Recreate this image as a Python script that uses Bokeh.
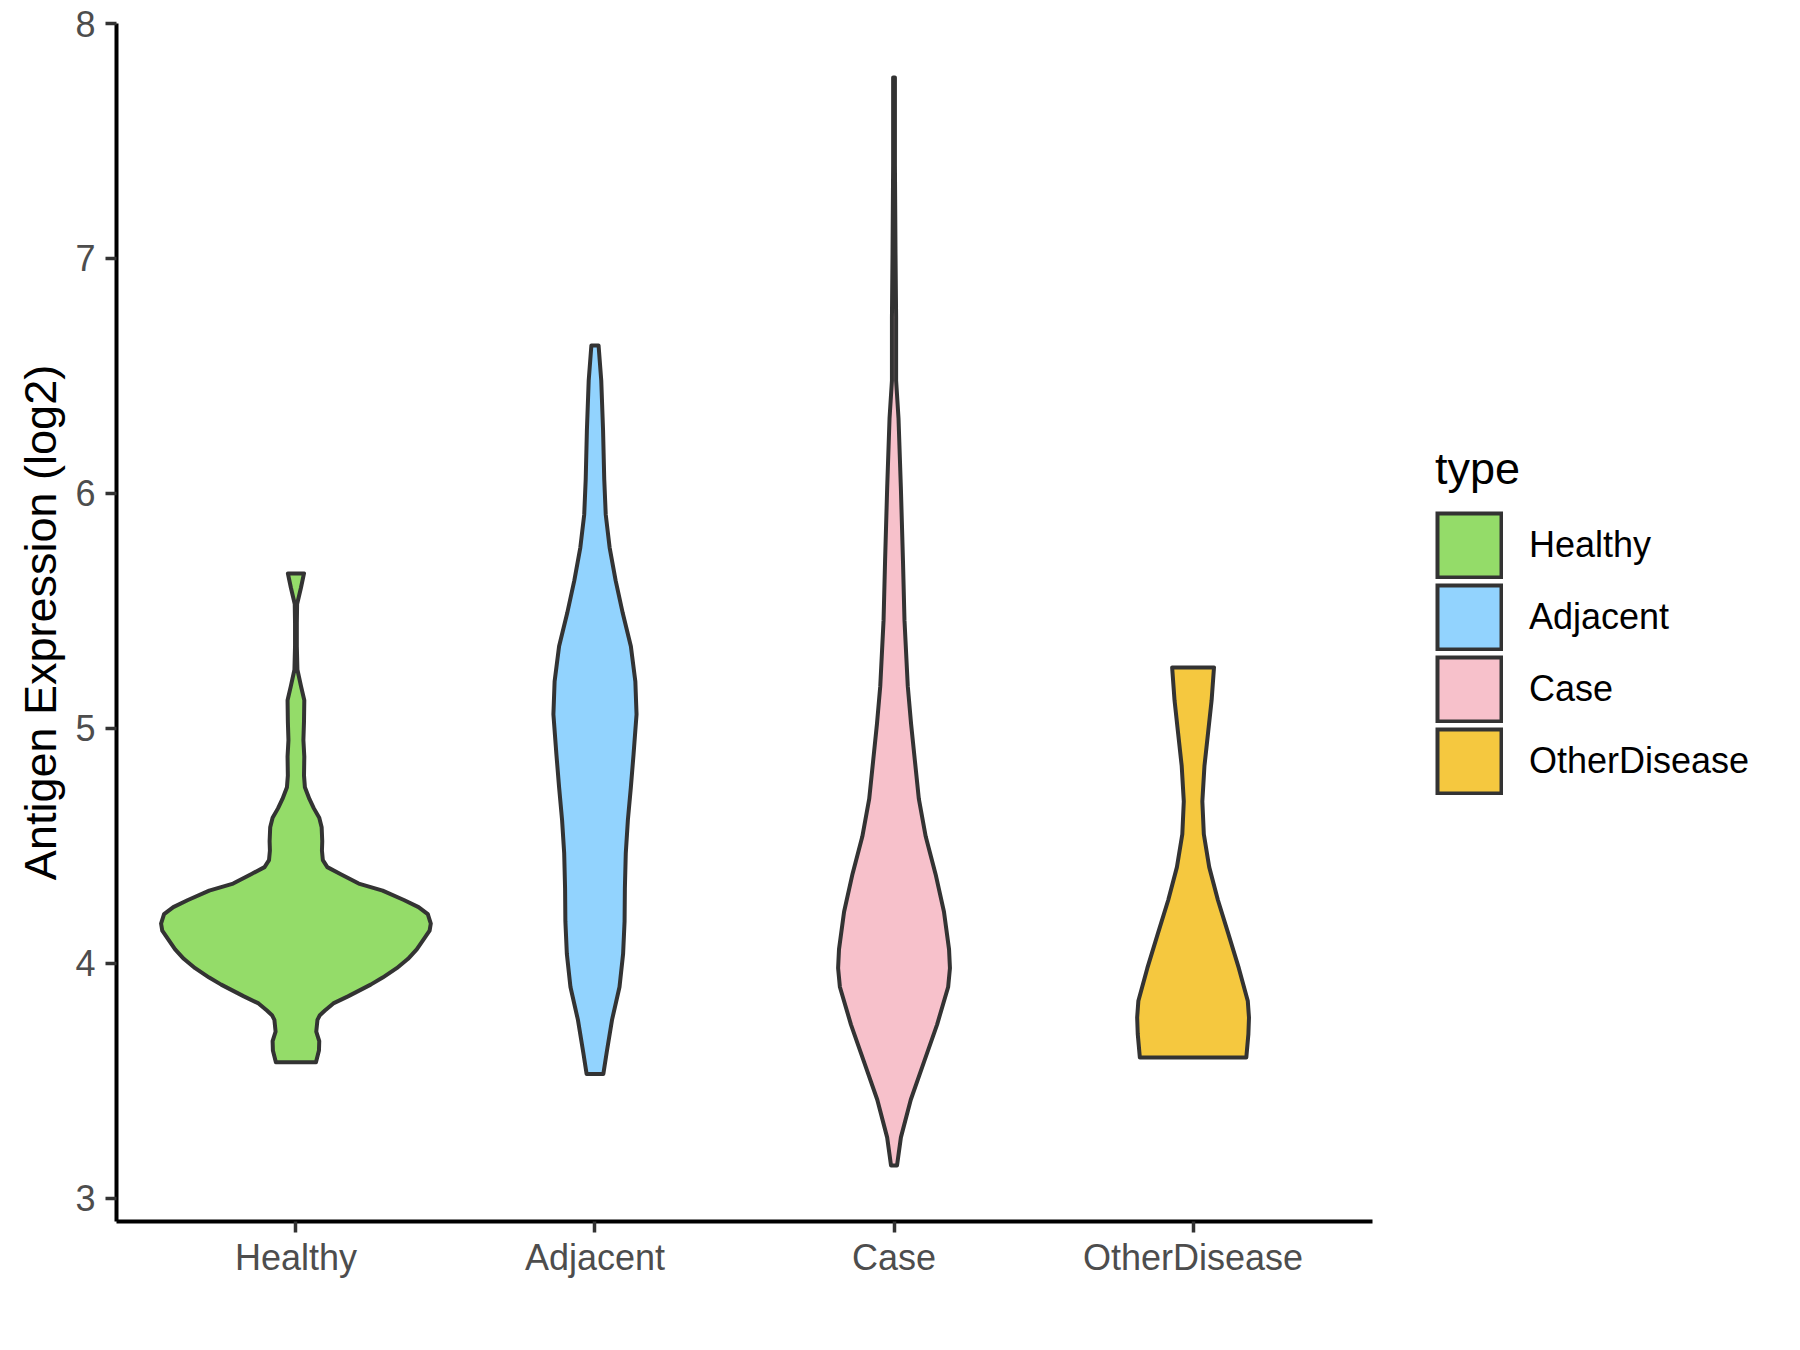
from bokeh.plotting import figure
from bokeh.models import Range1d, FixedTicker, Legend, LegendItem, ColumnDataSource
from bokeh.embed import file_html
from bokeh.resources import INLINE

# ---------------- data ----------------
categories = ["Healthy", "Adjacent", "Case", "OtherDisease"]
colors = ["#94DC69", "#92D3FE", "#F7C1CB", "#F5C83F"]
y_ticks = [3, 4, 5, 6, 7, 8]

# violin outlines: expression levels (log2) and half-width of the violin (category units)
healthy_y = [5.66, 5.60, 5.53, 5.45, 5.35, 5.25, 5.18, 5.12, 5.03, 4.95, 4.88, 4.80, 4.75,
             4.70, 4.66, 4.62, 4.58, 4.52, 4.48, 4.44, 4.41, 4.38, 4.34, 4.31, 4.27, 4.24, 4.21,
             4.17, 4.14, 4.11, 4.06, 4.02, 3.98, 3.94, 3.91, 3.86, 3.83, 3.80, 3.78, 3.76, 3.71,
             3.67, 3.63, 3.58]
healthy_w = [0.027, 0.017, 0.004, 0.003, 0.003, 0.005, 0.017, 0.028, 0.027, 0.025, 0.028, 0.027, 0.030,
             0.045, 0.060, 0.078, 0.086, 0.088, 0.087, 0.090, 0.105, 0.150, 0.210, 0.290, 0.361, 0.410, 0.441,
             0.451, 0.447, 0.431, 0.404, 0.375, 0.337, 0.290, 0.250, 0.174, 0.125, 0.097, 0.080, 0.072, 0.068,
             0.078, 0.077, 0.067]

adjacent_y = [6.63, 6.48, 6.27, 6.06, 5.91, 5.77, 5.63, 5.49, 5.35, 5.20, 5.06, 4.89, 4.75,
              4.61, 4.47, 4.32, 4.18, 4.04, 3.90, 3.76, 3.62, 3.53]
adjacent_w = [0.012, 0.021, 0.027, 0.031, 0.036, 0.049, 0.069, 0.093, 0.120, 0.135, 0.139, 0.129, 0.120,
              0.110, 0.103, 0.100, 0.099, 0.094, 0.082, 0.057, 0.039, 0.028]

case_y = [7.77, 7.40, 7.02, 6.75, 6.48, 6.32, 6.02, 5.71, 5.46, 5.18, 5.02, 4.86, 4.70, 4.54,
          4.38, 4.22, 4.06, 3.98, 3.90, 3.74, 3.58, 3.42, 3.26, 3.14]
case_w = [0.003, 0.003, 0.005, 0.007, 0.007, 0.015, 0.023, 0.030, 0.035, 0.046, 0.057, 0.070, 0.083, 0.106,
          0.139, 0.167, 0.184, 0.187, 0.181, 0.144, 0.100, 0.056, 0.023, 0.010]

other_y = [5.26, 5.12, 4.98, 4.84, 4.69, 4.55, 4.41, 4.27, 4.13, 3.98, 3.84, 3.77, 3.70, 3.60]
other_w = [0.070, 0.062, 0.050, 0.038, 0.031, 0.036, 0.054, 0.083, 0.117, 0.153, 0.183, 0.187, 0.185, 0.178]

outlines = [(healthy_y, healthy_w), (adjacent_y, adjacent_w), (case_y, case_w), (other_y, other_w)]

# ---------------- figure ----------------
FONT = "Liberation Sans"
p = figure(frame_width=1256, frame_height=1198, x_range=Range1d(0.4, 4.6), y_range=Range1d(2.902, 8.0),
           output_backend="svg", toolbar_location=None,
           min_border_left=116, min_border_right=0, min_border_top=23, min_border_bottom=113)
p.outline_line_color = None
p.xgrid.visible = False
p.ygrid.visible = False
p.background_fill_color = "white"

for i, (cat, col, (ys, ws)) in enumerate(zip(categories, colors, outlines)):
    pos = i + 1
    xs = [pos - w for w in ws] + [pos + w for w in ws[::-1]]
    yy = list(ys) + list(ys[::-1])
    src = ColumnDataSource(dict(x=xs, y=yy))
    p.patch("x", "y", source=src, fill_color=col, line_color="#333333",
            line_width=4, line_join="round")

# legend keys: bordered squares (outer dark stroke + inner coloured dashed stroke)
nan = float("nan")
items = []
for cat, col in zip(categories, colors):
    r_out = p.line(x=[nan], y=[nan], line_color="#333333", line_width=68)
    r_in = p.line(x=[nan], y=[nan], line_color=col, line_width=60, line_dash="0 4 60 100")
    items.append(LegendItem(label=cat, renderers=[r_out, r_in]))

# axes
p.xaxis.ticker = FixedTicker(ticks=[1, 2, 3, 4])
p.xaxis.major_label_overrides = {i + 1: c for i, c in enumerate(categories)}
p.yaxis.ticker = FixedTicker(ticks=y_ticks)
for ax in (p.xaxis, p.yaxis):
    ax.axis_line_color = "black"
    ax.axis_line_width = 4
    ax.major_tick_line_color = "#333333"
    ax.major_tick_line_width = 3.5
    ax.major_tick_in = 0
    ax.major_tick_out = 11
    ax.minor_tick_line_color = None
    ax.major_label_text_font = FONT
    ax.major_label_text_font_size = "36px"
    ax.major_label_text_color = "#4D4D4D"
p.xaxis.major_label_standoff = 4
p.yaxis.major_label_standoff = 10
p.yaxis.axis_label = "Antigen Expression (log2)"
p.yaxis.axis_label_text_font = FONT
p.yaxis.axis_label_text_font_size = "45px"
p.yaxis.axis_label_text_font_style = "normal"
p.yaxis.axis_label_text_color = "black"
p.yaxis.axis_label_standoff = 6

legend = Legend(items=items, location=(63, 426), title="type",
                title_text_font=FONT, title_text_font_size="45px", title_text_font_style="normal",
                title_text_color="black", title_standoff=16,
                label_text_font=FONT, label_text_font_size="36px", label_text_color="black",
                glyph_width=68, glyph_height=68, spacing=4, label_standoff=26,
                padding=10, margin=34, border_line_color=None, background_fill_alpha=0)
p.add_layout(legend, "right")

open("out.html", "w").write(file_html(p, INLINE))
